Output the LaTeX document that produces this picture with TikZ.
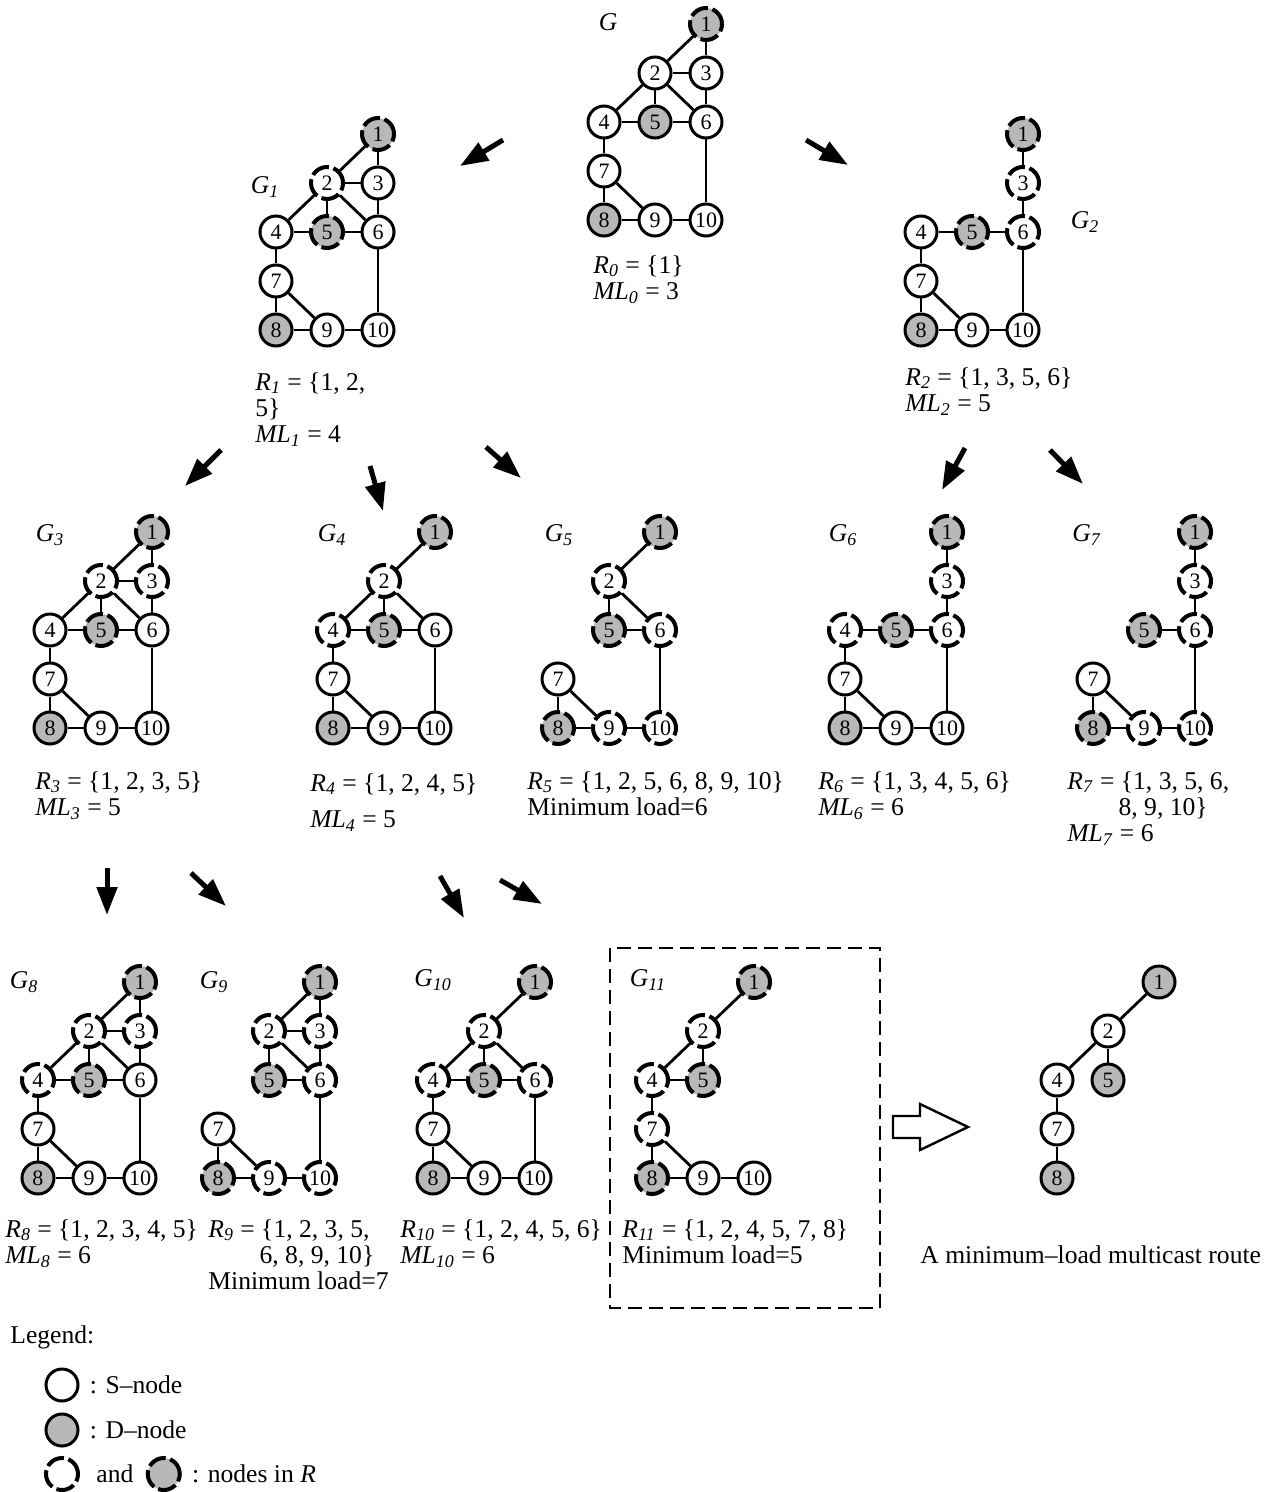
\documentclass[tikz,border=0pt]{standalone}
\usepackage{fontspec}
\setmainfont{Liberation Serif}
\usetikzlibrary{positioning,arrows.meta}
\newcommand{\Rsub}[1]{\textit{R}\textsubscript{\textit{#1}}}
\newcommand{\MLsub}[1]{\textit{ML}\textsubscript{\textit{#1}}}
\newcommand{\Gsub}[1]{\textit{G}\textsubscript{\textit{#1}}}

\begin{document}
\begin{tikzpicture}[
    x=0.5pt, y=-0.5pt,
    snode/.style={circle, draw, line width=1.5pt, fill=white, minimum size=16pt, inner sep=0pt, font=\fontsize{11}{11}\selectfont},
    dnode/.style={snode, fill=black!28},
    inr/.style={line width=2pt, dash pattern=on 9.3pt off 2.3pt},
    edge/.style={line width=1.4pt},
    bigarrow/.style={-{Triangle[length=14pt,width=10pt]}, line width=2.5pt},
    glabel/.style={font=\fontsize{12.8}{13.2}\selectfont, inner sep=0pt},
    info/.style={font=\fontsize{12.8}{13.2}\selectfont, align=left, anchor=north west, inner sep=0pt}
  ]
  \useasboundingbox (0,0) rectangle (1272,1492);

  % Graph G
  \begin{scope}[shift={(604,220)}]
    \node[dnode, inr] (g0-1) at (102,-196) {1};
    \node[snode] (g0-2) at (51,-147) {2};
    \node[snode] (g0-3) at (102,-147) {3};
    \node[snode] (g0-4) at (0,-98) {4};
    \node[dnode] (g0-5) at (51,-98) {5};
    \node[snode] (g0-6) at (102,-98) {6};
    \node[snode] (g0-7) at (0,-49) {7};
    \node[dnode] (g0-8) at (0,0) {8};
    \node[snode] (g0-9) at (51,0) {9};
    \node[snode] (g0-10) at (102,0) {10};
    \foreach \a/\b in {1/2,1/3,2/3,2/4,2/5,2/6,3/6,4/5,5/6,4/7,6/10,7/8,7/9,8/9,9/10}
      \draw[edge] (g0-\a) -- (g0-\b);
  \end{scope}
  \node[glabel] (lg0) at (608,22) {\textit{G}};
  \node[info] (r0) at (593,255) {\Rsub{0} = \{1\}\\ \MLsub{0} = 3};

  % Graph G1
  \begin{scope}[shift={(276,330)}]
    \node[dnode, inr] (g1-1) at (102,-196) {1};
    \node[snode, inr] (g1-2) at (51,-147) {2};
    \node[snode] (g1-3) at (102,-147) {3};
    \node[snode] (g1-4) at (0,-98) {4};
    \node[dnode, inr] (g1-5) at (51,-98) {5};
    \node[snode] (g1-6) at (102,-98) {6};
    \node[snode] (g1-7) at (0,-49) {7};
    \node[dnode] (g1-8) at (0,0) {8};
    \node[snode] (g1-9) at (51,0) {9};
    \node[snode] (g1-10) at (102,0) {10};
    \foreach \a/\b in {1/2,1/3,2/3,2/4,2/5,2/6,3/6,4/5,5/6,4/7,6/10,7/8,7/9,8/9,9/10}
      \draw[edge] (g1-\a) -- (g1-\b);
  \end{scope}
  \node[glabel] (lg1) at (265,187) {\Gsub{1}};
  \node[info] (r1) at (255,372) {\Rsub{1} = \{1, 2,\\ 5\}\\ \MLsub{1} = 4};

  % Graph G2
  \begin{scope}[shift={(921,330)}]
    \node[dnode, inr] (g2-1) at (102,-196) {1};
    \node[snode, inr] (g2-3) at (102,-147) {3};
    \node[snode] (g2-4) at (0,-98) {4};
    \node[dnode, inr] (g2-5) at (51,-98) {5};
    \node[snode, inr] (g2-6) at (102,-98) {6};
    \node[snode] (g2-7) at (0,-49) {7};
    \node[dnode] (g2-8) at (0,0) {8};
    \node[snode] (g2-9) at (51,0) {9};
    \node[snode] (g2-10) at (102,0) {10};
    \foreach \a/\b in {1/3,3/6,4/5,5/6,4/7,6/10,7/8,7/9,8/9,9/10}
      \draw[edge] (g2-\a) -- (g2-\b);
  \end{scope}
  \node[glabel] (lg2) at (1085,222) {\Gsub{2}};
  \node[info] (r2) at (905,367) {\Rsub{2} = \{1, 3, 5, 6\}\\ \MLsub{2} = 5};

  % Graph G3
  \begin{scope}[shift={(50,728)}]
    \node[dnode, inr] (g3-1) at (102,-196) {1};
    \node[snode, inr] (g3-2) at (51,-147) {2};
    \node[snode, inr] (g3-3) at (102,-147) {3};
    \node[snode] (g3-4) at (0,-98) {4};
    \node[dnode, inr] (g3-5) at (51,-98) {5};
    \node[snode] (g3-6) at (102,-98) {6};
    \node[snode] (g3-7) at (0,-49) {7};
    \node[dnode] (g3-8) at (0,0) {8};
    \node[snode] (g3-9) at (51,0) {9};
    \node[snode] (g3-10) at (102,0) {10};
    \foreach \a/\b in {1/2,1/3,2/3,2/4,2/5,2/6,3/6,4/5,5/6,4/7,6/10,7/8,7/9,8/9,9/10}
      \draw[edge] (g3-\a) -- (g3-\b);
  \end{scope}
  \node[glabel] (lg3) at (50,535) {\Gsub{3}};
  \node[info] (r3) at (35,771) {\Rsub{3} = \{1, 2, 3, 5\}\\ \MLsub{3} = 5};

  % Graph G4
  \begin{scope}[shift={(333,728)}]
    \node[dnode, inr] (g4-1) at (102,-196) {1};
    \node[snode, inr] (g4-2) at (51,-147) {2};
    \node[snode, inr] (g4-4) at (0,-98) {4};
    \node[dnode, inr] (g4-5) at (51,-98) {5};
    \node[snode] (g4-6) at (102,-98) {6};
    \node[snode] (g4-7) at (0,-49) {7};
    \node[dnode] (g4-8) at (0,0) {8};
    \node[snode] (g4-9) at (51,0) {9};
    \node[snode] (g4-10) at (102,0) {10};
    \foreach \a/\b in {1/2,2/4,2/5,2/6,4/5,5/6,4/7,6/10,7/8,7/9,8/9,9/10}
      \draw[edge] (g4-\a) -- (g4-\b);
  \end{scope}
  \node[glabel] (lg4) at (332,535) {\Gsub{4}};
  \node[info] (r4) at (310,773) {\Rsub{4} = \{1, 2, 4, 5\}\\[5pt] \MLsub{4} = 5};

  % Graph G5
  \begin{scope}[shift={(558,728)}]
    \node[dnode, inr] (g5-1) at (102,-196) {1};
    \node[snode, inr] (g5-2) at (51,-147) {2};
    \node[dnode, inr] (g5-5) at (51,-98) {5};
    \node[snode, inr] (g5-6) at (102,-98) {6};
    \node[snode] (g5-7) at (0,-49) {7};
    \node[dnode, inr] (g5-8) at (0,0) {8};
    \node[snode, inr] (g5-9) at (51,0) {9};
    \node[snode, inr] (g5-10) at (102,0) {10};
    \foreach \a/\b in {1/2,2/5,2/6,5/6,6/10,7/8,7/9,8/9,9/10}
      \draw[edge] (g5-\a) -- (g5-\b);
  \end{scope}
  \node[glabel] (lg5) at (559,535) {\Gsub{5}};
  \node[info] (r5) at (527,771) {\Rsub{5} = \{1, 2, 5, 6, 8, 9, 10\}\\ Minimum load=6};

  % Graph G6
  \begin{scope}[shift={(845,728)}]
    \node[dnode, inr] (g6-1) at (102,-196) {1};
    \node[snode, inr] (g6-3) at (102,-147) {3};
    \node[snode, inr] (g6-4) at (0,-98) {4};
    \node[dnode, inr] (g6-5) at (51,-98) {5};
    \node[snode, inr] (g6-6) at (102,-98) {6};
    \node[snode] (g6-7) at (0,-49) {7};
    \node[dnode] (g6-8) at (0,0) {8};
    \node[snode] (g6-9) at (51,0) {9};
    \node[snode] (g6-10) at (102,0) {10};
    \foreach \a/\b in {1/3,3/6,4/5,5/6,4/7,6/10,7/8,7/9,8/9,9/10}
      \draw[edge] (g6-\a) -- (g6-\b);
  \end{scope}
  \node[glabel] (lg6) at (843,535) {\Gsub{6}};
  \node[info] (r6) at (818,771) {\Rsub{6} = \{1, 3, 4, 5, 6\}\\ \MLsub{6} = 6};

  % Graph G7
  \begin{scope}[shift={(1093,728)}]
    \node[dnode, inr] (g7-1) at (102,-196) {1};
    \node[snode, inr] (g7-3) at (102,-147) {3};
    \node[dnode, inr] (g7-5) at (51,-98) {5};
    \node[snode, inr] (g7-6) at (102,-98) {6};
    \node[snode] (g7-7) at (0,-49) {7};
    \node[dnode, inr] (g7-8) at (0,0) {8};
    \node[snode, inr] (g7-9) at (51,0) {9};
    \node[snode, inr] (g7-10) at (102,0) {10};
    \foreach \a/\b in {1/3,3/6,5/6,6/10,7/8,7/9,8/9,9/10}
      \draw[edge] (g7-\a) -- (g7-\b);
  \end{scope}
  \node[glabel] (lg7) at (1087,535) {\Gsub{7}};
  \node[info] (r7) at (1067,771) {\Rsub{7} = \{1, 3, 5, 6,\\ \hspace*{2em}8, 9, 10\}\\ \MLsub{7} = 6};

  % Graph G8
  \begin{scope}[shift={(38,1178)}]
    \node[dnode, inr] (g8-1) at (102,-196) {1};
    \node[snode, inr] (g8-2) at (51,-147) {2};
    \node[snode, inr] (g8-3) at (102,-147) {3};
    \node[snode, inr] (g8-4) at (0,-98) {4};
    \node[dnode, inr] (g8-5) at (51,-98) {5};
    \node[snode] (g8-6) at (102,-98) {6};
    \node[snode] (g8-7) at (0,-49) {7};
    \node[dnode] (g8-8) at (0,0) {8};
    \node[snode] (g8-9) at (51,0) {9};
    \node[snode] (g8-10) at (102,0) {10};
    \foreach \a/\b in {1/2,1/3,2/3,2/4,2/5,2/6,3/6,4/5,5/6,4/7,6/10,7/8,7/9,8/9,9/10}
      \draw[edge] (g8-\a) -- (g8-\b);
  \end{scope}
  \node[glabel] (lg8) at (24,982) {\Gsub{8}};
  \node[info] (r8) at (5,1219) {\Rsub{8} = \{1, 2, 3, 4, 5\}\\ \MLsub{8} = 6};

  % Graph G9
  \begin{scope}[shift={(218,1178)}]
    \node[dnode, inr] (g9-1) at (102,-196) {1};
    \node[snode, inr] (g9-2) at (51,-147) {2};
    \node[snode, inr] (g9-3) at (102,-147) {3};
    \node[dnode, inr] (g9-5) at (51,-98) {5};
    \node[snode, inr] (g9-6) at (102,-98) {6};
    \node[snode] (g9-7) at (0,-49) {7};
    \node[dnode, inr] (g9-8) at (0,0) {8};
    \node[snode, inr] (g9-9) at (51,0) {9};
    \node[snode, inr] (g9-10) at (102,0) {10};
    \foreach \a/\b in {1/2,1/3,2/3,2/5,2/6,3/6,5/6,6/10,7/8,7/9,8/9,9/10}
      \draw[edge] (g9-\a) -- (g9-\b);
  \end{scope}
  \node[glabel] (lg9) at (214,982) {\Gsub{9}};
  \node[info] (r9) at (208,1219) {\Rsub{9} = \{1, 2, 3, 5,\\ \hspace*{2em}6, 8, 9, 10\}\\ Minimum load=7};

  % Graph G10
  \begin{scope}[shift={(433,1178)}]
    \node[dnode, inr] (g10-1) at (102,-196) {1};
    \node[snode, inr] (g10-2) at (51,-147) {2};
    \node[snode, inr] (g10-4) at (0,-98) {4};
    \node[dnode, inr] (g10-5) at (51,-98) {5};
    \node[snode, inr] (g10-6) at (102,-98) {6};
    \node[snode] (g10-7) at (0,-49) {7};
    \node[dnode] (g10-8) at (0,0) {8};
    \node[snode] (g10-9) at (51,0) {9};
    \node[snode] (g10-10) at (102,0) {10};
    \foreach \a/\b in {1/2,2/4,2/5,2/6,4/5,5/6,4/7,6/10,7/8,7/9,8/9,9/10}
      \draw[edge] (g10-\a) -- (g10-\b);
  \end{scope}
  \node[glabel] (lg10) at (433,980) {\Gsub{10}};
  \node[info] (r10) at (400,1219) {\Rsub{10} = \{1, 2, 4, 5, 6\}\\ \MLsub{10} = 6};

  % Graph G11
  \begin{scope}[shift={(652,1178)}]
    \node[dnode, inr] (g11-1) at (102,-196) {1};
    \node[snode, inr] (g11-2) at (51,-147) {2};
    \node[snode, inr] (g11-4) at (0,-98) {4};
    \node[dnode, inr] (g11-5) at (51,-98) {5};
    \node[snode, inr] (g11-7) at (0,-49) {7};
    \node[dnode, inr] (g11-8) at (0,0) {8};
    \node[snode] (g11-9) at (51,0) {9};
    \node[snode] (g11-10) at (102,0) {10};
    \foreach \a/\b in {1/2,2/4,2/5,4/5,4/7,7/8,7/9,8/9,9/10}
      \draw[edge] (g11-\a) -- (g11-\b);
  \end{scope}
  \node[glabel] (lg11) at (648,980) {\Gsub{11}};
  \node[info] (r11) at (622,1219) {\Rsub{11} = \{1, 2, 4, 5, 7, 8\}\\ Minimum load=5};
  \draw[line width=1.4pt, dash pattern=on 7pt off 3.5pt] (610,948) rectangle (880,1308);

  % Minimum-load route
  \begin{scope}[shift={(1057,1178)}]
    \node[dnode] (rt-1) at (102,-196) {1};
    \node[snode] (rt-2) at (51,-147) {2};
    \node[snode] (rt-4) at (0,-98) {4};
    \node[dnode] (rt-5) at (51,-98) {5};
    \node[snode] (rt-7) at (0,-49) {7};
    \node[dnode] (rt-8) at (0,0) {8};
    \foreach \a/\b in {1/2,2/4,2/5,4/7,7/8}
      \draw[edge] (rt-\a) -- (rt-\b);
  \end{scope}
  \node[glabel, anchor=west] (rtlabel) at (920,1255) {A minimum–load multicast route};

  % Hollow arrow
  \draw[line width=1.2pt] (893,1116) -- (920,1116) -- (920,1104) -- (968,1127)
    -- (920,1150) -- (920,1138) -- (893,1138) -- cycle;

  % Arrows
  \coordinate (a1s) at (503,140);  \coordinate (a1e) at (460,166);
  \coordinate (a2s) at (806,140);  \coordinate (a2e) at (848,165);
  \coordinate (a3s) at (221,450);  \coordinate (a3e) at (185,486);
  \coordinate (a4s) at (370,466);  \coordinate (a4e) at (383,511);
  \coordinate (a5s) at (486,447);  \coordinate (a5e) at (521,478);
  \coordinate (a6s) at (965,448);  \coordinate (a6e) at (942,490);
  \coordinate (a7s) at (1050,450); \coordinate (a7e) at (1083,484);
  \coordinate (a8s) at (107,868);  \coordinate (a8e) at (107,915);
  \coordinate (a9s) at (191,873);  \coordinate (a9e) at (226,906);
  \coordinate (a10s) at (440,876); \coordinate (a10e) at (464,918);
  \coordinate (a11s) at (500,880); \coordinate (a11e) at (542,904);
  \foreach \i in {1,...,11}
    \draw[bigarrow] (a\i s) -- (a\i e);

  % Legend
  \node[glabel, anchor=west] (legend) at (10,1337) {Legend:};
  \node[snode] (legs) at (62,1385) {};
  \node[glabel, right=5pt of legs] (legst) {: S–node};
  \node[dnode] (legd) at (62,1430) {};
  \node[glabel, right=5pt of legd] (legdt) {: D–node};
  \node[snode, inr] (legr) at (62,1474) {};
  \node[glabel, right=8pt of legr] (legand) {and};
  \node[dnode, inr, right=6pt of legand] (legr2) {};
  \node[glabel, right=5pt of legr2] (legrt) {: nodes in \textit{R}};
\end{tikzpicture}
\end{document}
